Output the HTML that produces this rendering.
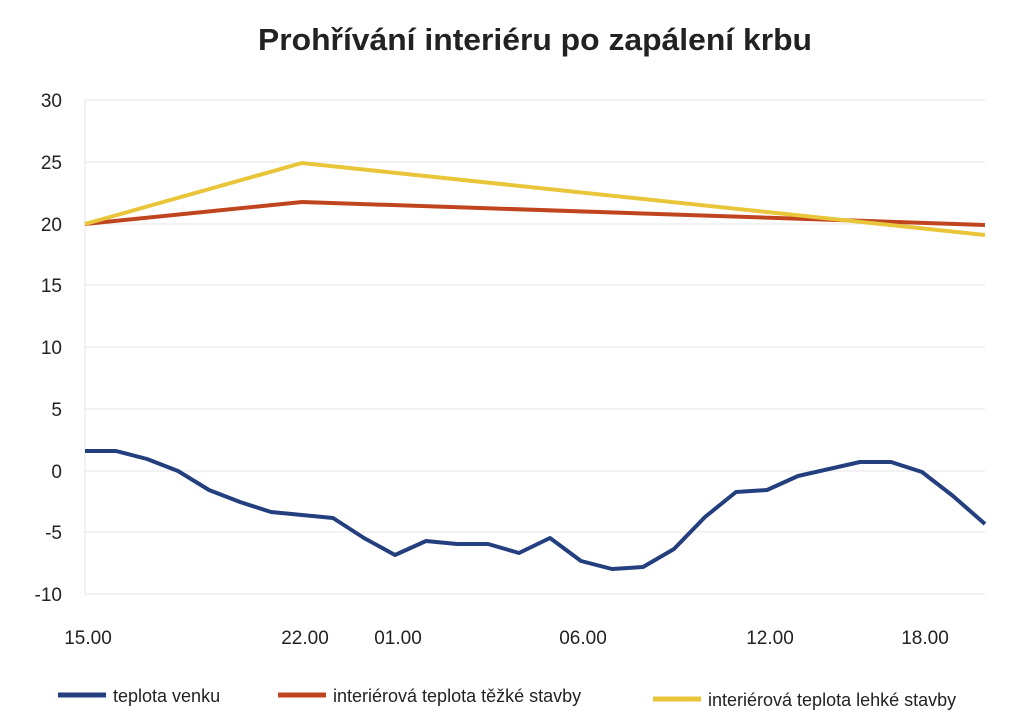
<!DOCTYPE html>
<html><head><meta charset="utf-8"><style>
body{margin:0;background:#fff;}
svg{display:block;font-family:"Liberation Sans",sans-serif;}
</style></head><body>
<svg width="1024" height="725" viewBox="0 0 1024 725">
<text x="258" y="50" font-size="31" font-weight="bold" fill="#222" textLength="554" lengthAdjust="spacingAndGlyphs">Prohřívání interiéru po zapálení krbu</text>
<g stroke="#e6e6e6" stroke-width="1">
<line x1="85" y1="100" x2="985" y2="100"/>
<line x1="85" y1="162" x2="985" y2="162"/>
<line x1="85" y1="224" x2="985" y2="224"/>
<line x1="85" y1="285" x2="985" y2="285"/>
<line x1="85" y1="347" x2="985" y2="347"/>
<line x1="85" y1="409" x2="985" y2="409"/>
<line x1="85" y1="471" x2="985" y2="471"/>
<line x1="85" y1="532" x2="985" y2="532"/>
<line x1="85" y1="594" x2="985" y2="594"/>
<line x1="85" y1="100" x2="85" y2="594"/>
</g>
<g font-size="19" fill="#222" text-anchor="end">
<text x="62" y="107">30</text><text x="62" y="169">25</text><text x="62" y="231">20</text>
<text x="62" y="292">15</text><text x="62" y="354">10</text><text x="62" y="416">5</text>
<text x="62" y="478">0</text><text x="62" y="539">-5</text><text x="62" y="601">-10</text>
</g>
<g font-size="19" fill="#222" text-anchor="middle">
<text x="88" y="644">15.00</text><text x="305" y="644">22.00</text><text x="398" y="644">01.00</text>
<text x="583" y="644">06.00</text><text x="770" y="644">12.00</text><text x="925" y="644">18.00</text>
</g>
<polyline fill="none" stroke="#c0451f" stroke-width="4" points="85,224 302,202 985,225"/>
<polyline fill="none" stroke="#e9c53a" stroke-width="4" points="85,224 302,163 985,235"/>
<polyline fill="none" stroke="#243f7d" stroke-width="4" stroke-linejoin="round" points="85,451 116,451 147,459 178,471 209,490 240,502 271,512 302,515 333,518 364,538 395,555 426,541 457,544 488,544 519,553 550,538 581,561 612,569 643,567 674,549 705,517 736,492 767,490 798,476 829,469 860,462 891,462 922,472 953,496 985,524"/>
<line x1="58" y1="695" x2="106" y2="695" stroke="#243f7d" stroke-width="5"/>
<text x="113" y="702" font-size="18" fill="#222">teplota venku</text>
<line x1="278" y1="695" x2="326" y2="695" stroke="#c0451f" stroke-width="5"/>
<text x="333" y="702" font-size="18" fill="#222">interiérová teplota těžké stavby</text>
<line x1="653" y1="699" x2="701" y2="699" stroke="#e9c53a" stroke-width="5"/>
<text x="708" y="706" font-size="18" fill="#222">interiérová teplota lehké stavby</text>
</svg>
</body></html>
